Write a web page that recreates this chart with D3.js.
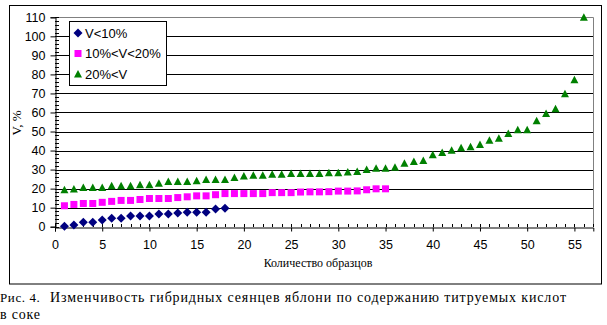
<!DOCTYPE html>
<html><head><meta charset="utf-8">
<script src="https://cdn.jsdelivr.net/npm/d3@7/dist/d3.min.js"></script>
<style>
html,body{margin:0;padding:0;background:#fff;}
svg{display:block;}
.tick{font-family:'Liberation Sans Narrow','Arial Narrow','Liberation Sans',Arial,sans-serif;font-size:12.5px;}
</style></head>
<body><svg id="c" width="607" height="325"></svg>
<script>
const seriesNames = ["V<10%", "10%<V<20%", "20%<V"];
const lowV = [0.3, 0.9, 2.3, 2.3, 3.5, 4.5, 4.5, 5.6, 5.6, 5.6, 6.7, 6.7, 7.2, 7.6, 7.6, 7.6, 9.3, 9.7];
const midV = [11.0, 11.7, 12.2, 12.2, 12.8, 13.3, 13.8, 13.8, 14.3, 14.8, 14.8, 14.8, 15.3, 15.7, 16.2, 16.2, 16.8, 17.4, 17.4, 17.4, 17.4, 17.4, 17.9, 17.9, 17.9, 18.2, 18.3, 18.3, 18.4, 18.7, 18.7, 18.8, 19.4, 19.9, 19.9];
const highV = [19.4, 19.8, 20.6, 20.6, 20.6, 21.5, 21.5, 21.5, 22.1, 22.1, 22.8, 23.7, 23.7, 23.7, 24.2, 24.8, 24.8, 24.8, 25.9, 26.6, 27.0, 27.0, 27.5, 27.5, 28.0, 28.0, 28.0, 28.0, 28.4, 28.4, 28.8, 29.0, 30.1, 30.7, 30.7, 31.2, 33.3, 34.3, 34.8, 37.8, 39.0, 40.1, 41.5, 42.0, 43.2, 45.4, 46.4, 49.0, 50.9, 50.9, 55.6, 59.5, 61.9, 69.8, 77.2, 110];
const xTicks = [0,5,10,15,20,25,30,35,40,45,50,55];
const yTicks = [0,10,20,30,40,50,60,70,80,90,100,110];
const xTitle = "Количество образцов";
const yTitle = "V, %";
const captionNum = "Рис. 4.";
const captionMain = "Изменчивость гибридных сеянцев яблони по содержанию титруемых кислот";
const captionLine2 = "в соке";

const svg = d3.select("#c");
const L = 55, R = 593.3, T = 17.3, B = 226.7;
const x = d3.scaleLinear().domain([0,57]).range([L,R]);
const y = d3.scaleLinear().domain([0,110]).range([B,T]);

// outer chart border
svg.append("rect").attr("x",9.5).attr("y",5.5).attr("width",592).attr("height",278.5)
  .attr("fill","#fff").attr("stroke","#000").attr("stroke-width",1);

// gridlines
svg.append("g").selectAll("line").data(yTicks.filter(v=>v>0 && v<110)).join("line")
  .attr("x1",L).attr("x2",R).attr("y1",d=>Math.round(y(d))+0.5).attr("y2",d=>Math.round(y(d))+0.5)
  .attr("stroke","#000").attr("stroke-width",1);
// plot border (gray)
svg.append("path").attr("d",`M${L},${Math.round(T)+0.5}H${Math.round(R)+0.5}V${Math.round(B)}`)
  .attr("fill","none").attr("stroke","#808080").attr("stroke-width",1);

// y axis
const yAxis = d3.axisLeft(y).tickValues(yTicks).tickSize(5).tickPadding(5);
const gy = svg.append("g").attr("class","tick").attr("transform",`translate(${L+0.5},0)`).call(yAxis);
gy.select(".domain").attr("stroke","#000");
gy.selectAll("text").attr("fill","#000").style("font-size","12.5px");
gy.selectAll(".tick line").attr("stroke","#000");
// y minor ticks inside
const yMinor = d3.range(0,111,2).filter(v=>v%10!==0);
svg.append("g").selectAll("line").data(yMinor).join("line")
  .attr("x1",L).attr("x2",L+4).attr("y1",d=>Math.round(y(d))+0.5).attr("y2",d=>Math.round(y(d))+0.5)
  .attr("stroke","#000");
svg.append("g").selectAll("line").data(yTicks).join("line")
  .attr("x1",L).attr("x2",L+4).attr("y1",d=>Math.round(y(d))+0.5).attr("y2",d=>Math.round(y(d))+0.5)
  .attr("stroke","#000");

// x axis
const xAxis = d3.axisBottom(x).tickValues(xTicks).tickSize(4).tickPadding(9);
const gx = svg.append("g").attr("class","tick").attr("transform",`translate(0,${Math.round(B)+0.5})`).call(xAxis);
gx.select(".domain").attr("stroke","#000");
gx.selectAll("text").attr("fill","#000").style("font-size","12.5px");
gx.selectAll(".tick line").attr("stroke","#000");
const xMinor = d3.range(0,58,1);
svg.append("g").selectAll("line").data(xMinor).join("line")
  .attr("x1",d=>Math.round(x(d))+0.5).attr("x2",d=>Math.round(x(d))+0.5)
  .attr("y1",Math.round(B)-3).attr("y2",Math.round(B))
  .attr("stroke","#000");

// series markers
const diamond = "M0,-4.5L4.5,0L0,4.5L-4.5,0Z";
const square = "M-3.5,-3.5H3.5V3.5H-3.5Z";
const tri = "M0,-4L4,3.5L-4,3.5Z";
const series = [
  {name:seriesNames[0], vals:lowV, path:diamond, color:"#000080"},
  {name:seriesNames[1], vals:midV, path:square, color:"#FF00FF"},
  {name:seriesNames[2], vals:highV, path:tri, color:"#008000"}
];
series.forEach(s=>{
  svg.append("g").selectAll("path").data(s.vals).join("path")
    .attr("d",s.path).attr("fill",s.color)
    .attr("transform",(d,i)=>`translate(${x(i+1)},${y(d)})`);
});

// legend
const lg = svg.append("g");
lg.append("rect").attr("x",69.5).attr("y",21.5).attr("width",97).attr("height",64)
  .attr("fill","#fff").attr("stroke","#000");
series.forEach((s,i)=>{
  const cy = 33 + i*20.5;
  lg.append("path").attr("d",s.path).attr("fill",s.color).attr("transform",`translate(78,${cy})`);
  lg.append("text").attr("x",85).attr("y",cy+4.5).text(s.name)
    .style("font-family","'Liberation Sans',Arial,sans-serif").style("font-size","13px");
});

// axis titles
svg.append("text").attr("x",318).attr("y",267).attr("text-anchor","middle")
  .style("font-family","'Liberation Serif','Times New Roman',serif").style("font-size","12px").text(xTitle);
svg.append("text").attr("transform","translate(21,123) rotate(-90)").attr("text-anchor","middle")
  .style("font-family","'Liberation Serif','Times New Roman',serif").style("font-size","13px").text(yTitle);

// caption
const cap = svg.append("text").attr("y",302).style("font-family","'Liberation Serif','Times New Roman',serif");
cap.append("tspan").attr("x",0).style("font-size","13px").style("letter-spacing","0.6px").text(captionNum);
cap.append("tspan").attr("x",50).style("font-size","14px")
  .attr("textLength",516).attr("lengthAdjust","spacing").text(captionMain);
svg.append("text").attr("x",0).attr("y",319).style("font-family","'Liberation Serif','Times New Roman',serif")
  .style("font-size","14px").style("letter-spacing","0.8px").text(captionLine2);
</script>
</body></html>
